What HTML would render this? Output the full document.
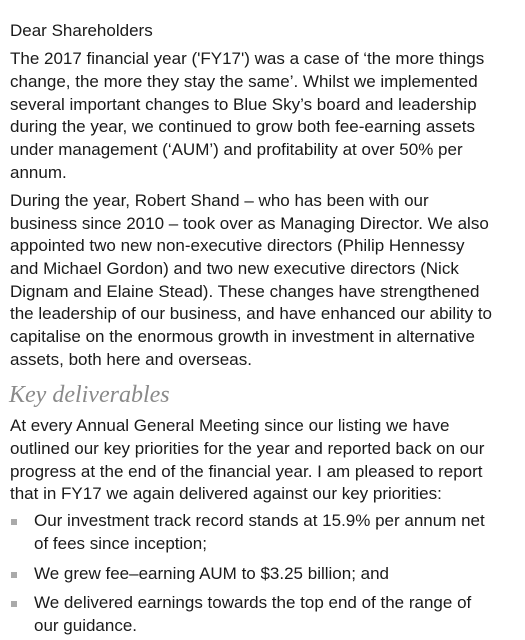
<!DOCTYPE html>
<html><head><meta charset="utf-8"><style>
body{margin:0;width:525px;height:640px;background:#fff;overflow:hidden;font-family:"Liberation Sans",sans-serif;color:#1a1a1a;}
.l{position:absolute;left:10px;font-size:17px;white-space:nowrap;line-height:20px;}
.b{left:34px}
.h{position:absolute;left:9px;top:382px;font-family:"Liberation Serif",serif;font-style:italic;font-size:24px;color:#8a8a8a;}
.sq{position:absolute;left:11px;width:6px;height:6px;background:#aaa;}
</style></head><body>
<div class="l" style="top:21px">Dear Shareholders</div>
<div>
<div class="l" style="top:49px">The 2017 financial year ('FY17') was a case of ‘the more things</div>
<div class="l" style="top:72px">change, the more they stay the same’. Whilst we implemented</div>
<div class="l" style="top:95px">several important changes to Blue Sky’s board and leadership</div>
<div class="l" style="top:117px">during the year, we continued to grow both fee-earning assets</div>
<div class="l" style="top:140px">under management (‘AUM’) and profitability at over 50% per</div>
<div class="l" style="top:163px">annum.</div>
</div>
<div>
<div class="l" style="top:191px">During the year, Robert Shand – who has been with our</div>
<div class="l" style="top:214px">business since 2010 – took over as Managing Director. We also</div>
<div class="l" style="top:236px">appointed two new non-executive directors (Philip Hennessy</div>
<div class="l" style="top:259px">and Michael Gordon) and two new executive directors (Nick</div>
<div class="l" style="top:282px">Dignam and Elaine Stead). These changes have strengthened</div>
<div class="l" style="top:304px">the leadership of our business, and have enhanced our ability to</div>
<div class="l" style="top:327px">capitalise on the enormous growth in investment in alternative</div>
<div class="l" style="top:350px">assets, both here and overseas.</div>
</div>
<div class="h">Key deliverables</div>
<div>
<div class="l" style="top:416px">At every Annual General Meeting since our listing we have</div>
<div class="l" style="top:439px">outlined our key priorities for the year and reported back on our</div>
<div class="l" style="top:462px">progress at the end of the financial year. I am pleased to report</div>
<div class="l" style="top:484px">that in FY17 we again delivered against our key priorities:</div>
</div>
<div>
<div class="sq" style="top:519px"></div>
<div class="l b" style="top:511px">Our investment track record stands at 15.9% per annum net</div>
<div class="l b" style="top:534px">of fees since inception;</div>
</div>
<div>
<div class="sq" style="top:572px"></div>
<div class="l b" style="top:564px">We grew fee–earning AUM to $3.25 billion; and</div>
</div>
<div>
<div class="sq" style="top:601px"></div>
<div class="l b" style="top:593px">We delivered earnings towards the top end of the range of</div>
<div class="l b" style="top:616px">our guidance.</div>
</div>
</body></html>
